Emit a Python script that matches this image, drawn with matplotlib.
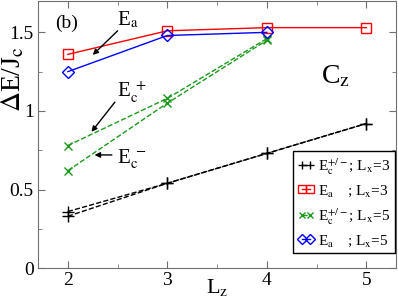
import matplotlib
matplotlib.use("Agg")
import matplotlib.pyplot as plt
from matplotlib.ticker import MultipleLocator

plt.rcParams['font.family'] = ['Liberation Serif', 'DejaVu Serif']
plt.rcParams['mathtext.fontset'] = 'stix'

# data
lz3 = [2, 3, 4, 5]
lz5 = [2, 3, 4]
ec_plus_lx3 = [0.36, 0.54, 0.73, 0.92]
ec_minus_lx3 = [0.33, 0.54, 0.73, 0.92]
ea_lx3 = [1.36, 1.51, 1.53, 1.53]
ec_plus_lx5 = [0.78, 1.08, 1.46]
ec_minus_lx5 = [0.62, 1.05, 1.45]
ea_lx5 = [1.25, 1.48, 1.50]

fig = plt.figure(figsize=(3.98, 3.04), dpi=100)
ax = fig.add_axes([0.0955, 0.118, 0.9, 0.879])

green = '#1a9a1a'
ax.plot(lz3, ec_plus_lx3, color='black', ls='--', lw=1, marker='+', ms=8, mew=1,
        label=r'E$_\mathrm{c}^{+/-}$; L$_\mathrm{x}$=3')
ax.plot(lz3, ec_minus_lx3, color='black', ls='--', lw=1, marker='+', ms=8, mew=1)
ax.plot(lz3, ea_lx3, color='red', ls='-', lw=1, marker='s', ms=7, mfc='none', mew=1,
        label=r'E$_\mathrm{a}$$\quad\;$; L$_\mathrm{x}$=3')
ax.plot(lz5, ec_plus_lx5, color=green, ls='--', lw=1, marker='x', ms=6, mew=1,
        label=r'E$_\mathrm{c}^{+/-}$; L$_\mathrm{x}$=5')
ax.plot(lz5, ec_minus_lx5, color=green, ls='--', lw=1, marker='x', ms=6, mew=1)
ax.plot(lz5, ea_lx5, color='blue', ls='-', lw=1, marker='D', ms=6, mfc='none', mew=1,
        label=r'E$_\mathrm{a}$$\quad\;$; L$_\mathrm{x}$=5')

ax.set_xlim(1.7, 5.3)
ax.set_ylim(0, 1.7)
ax.xaxis.set_major_locator(MultipleLocator(1))
ax.xaxis.set_minor_locator(MultipleLocator(0.5))
ax.yaxis.set_minor_locator(MultipleLocator(0.25))
ax.set_yticks([0, 0.5, 1, 1.5])
ax.set_yticklabels(['0', '0.5', '1', '1.5'])
ax.tick_params(which='both', direction='in', top=True, right=True, color='#707070', labelsize=14, pad=3)
ax.tick_params(which='major', length=5)
ax.tick_params(which='minor', length=3)
for s in ax.spines.values():
    s.set_color('#707070')

ax.set_xlabel(r'L$_\mathrm{z}$', fontsize=16, va='top')
ax.xaxis.set_label_coords(0.5, -0.035)
fig.text(0.0, 0.74, r'$\Delta$E/J$_\mathrm{c}$', fontsize=20, rotation=90, ha='left', va='center')

ax.text(1.87, 1.53, '(b)', fontsize=14, va='baseline')
ax.text(4.54, 1.178, r'C$_\mathrm{z}$', fontsize=20, va='baseline')

arrow = dict(arrowstyle='-|>', color='black', lw=1, mutation_scale=8)
ax.annotate('', xy=(2.23, 1.344), xytext=(2.52, 1.522), arrowprops=arrow)
ax.text(2.49, 1.548, r'E$_\mathrm{a}$', fontsize=15, va='baseline')
ax.annotate('', xy=(2.22, 0.853), xytext=(2.49, 1.07), arrowprops=arrow)
ax.text(2.49, 1.089, r'E$_\mathrm{c}^{\ +}$', fontsize=15, va='baseline')
ax.annotate('', xy=(2.24, 0.72), xytext=(2.47, 0.72), arrowprops=arrow)
ax.text(2.49, 0.662, r'E$_\mathrm{c}^{\ -}$', fontsize=15, va='baseline')

leg = ax.legend(loc='lower right', bbox_to_anchor=(0.997, 0.056), numpoints=2, fontsize=11,
                frameon=True, fancybox=False, edgecolor='black', framealpha=1,
                handlelength=1.1, handletextpad=0.25, borderpad=0.3, markerscale=0.8,
                labelspacing=0.45, borderaxespad=0)
leg.get_frame().set_linewidth(1)

fig.savefig('out.png', dpi=100)
